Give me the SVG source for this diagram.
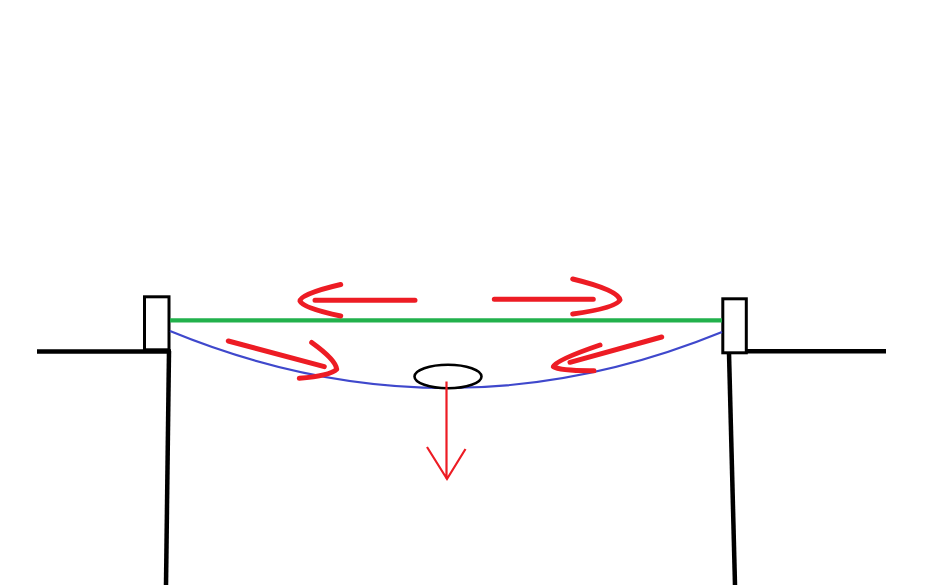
<svg xmlns="http://www.w3.org/2000/svg" width="943" height="585" viewBox="0 0 943 585">
<style>
.blk{stroke:#000;fill:none;stroke-width:4.5;stroke-linecap:butt}
.post{stroke:#000;fill:#fff;stroke-width:3}
.red{stroke:#ED1C24;fill:none;stroke-width:5;stroke-linecap:round;stroke-linejoin:round}
.thin{stroke:#ED1C24;fill:none;stroke-width:2.2}
</style>
<rect width="943" height="585" fill="#fff"/>
<g id="ground">
<line class="blk" x1="37" y1="351.5" x2="171" y2="351.5"/>
<line class="blk" x1="169" y1="351" x2="166" y2="585"/>
<line class="blk" x1="729" y1="351.3" x2="886" y2="351.3"/>
<line class="blk" x1="729" y1="353" x2="735" y2="585"/>
</g>
<g id="left-post"><rect class="post" x="144.5" y="296.8" width="24.5" height="53"/></g>
<g id="right-post"><rect class="post" x="722.8" y="298.8" width="23.5" height="54"/></g>
<g id="membrane">
<line x1="170" y1="320.3" x2="722" y2="320.3" stroke="#22B14C" stroke-width="4.2"/>
<path d="M170,331 Q446,444.5 722,332" stroke="#3F48CC" stroke-width="2.2" fill="none"/>
</g>
<g id="weight">
<ellipse cx="448" cy="376.5" rx="33.5" ry="11.8" fill="#fff" stroke="#000" stroke-width="2.6"/>
</g>
<g id="connectors">
<path class="thin" d="M446.5,381.5 V479 M427,447 L447,479 L465.5,449"/>
<path class="red" d="M315,300.3 H415 M340.7,284.5 Q300,294 300,301 Q303,308 340.7,316"/>
<path class="red" d="M494.3,299.3 H593.3 M572.7,279 Q618,290 620,300 Q616,308 572.7,314"/>
<path class="red" d="M228.3,341 L324.3,366.7 M311.7,342.5 Q336,360 336.7,369.3 Q330,376 299.3,378.3"/>
<path class="red" d="M661.7,337 L570,362.3 M600,345 Q556,360 553.3,366.7 Q560,371 594,370.7"/>
</g>
</svg>
